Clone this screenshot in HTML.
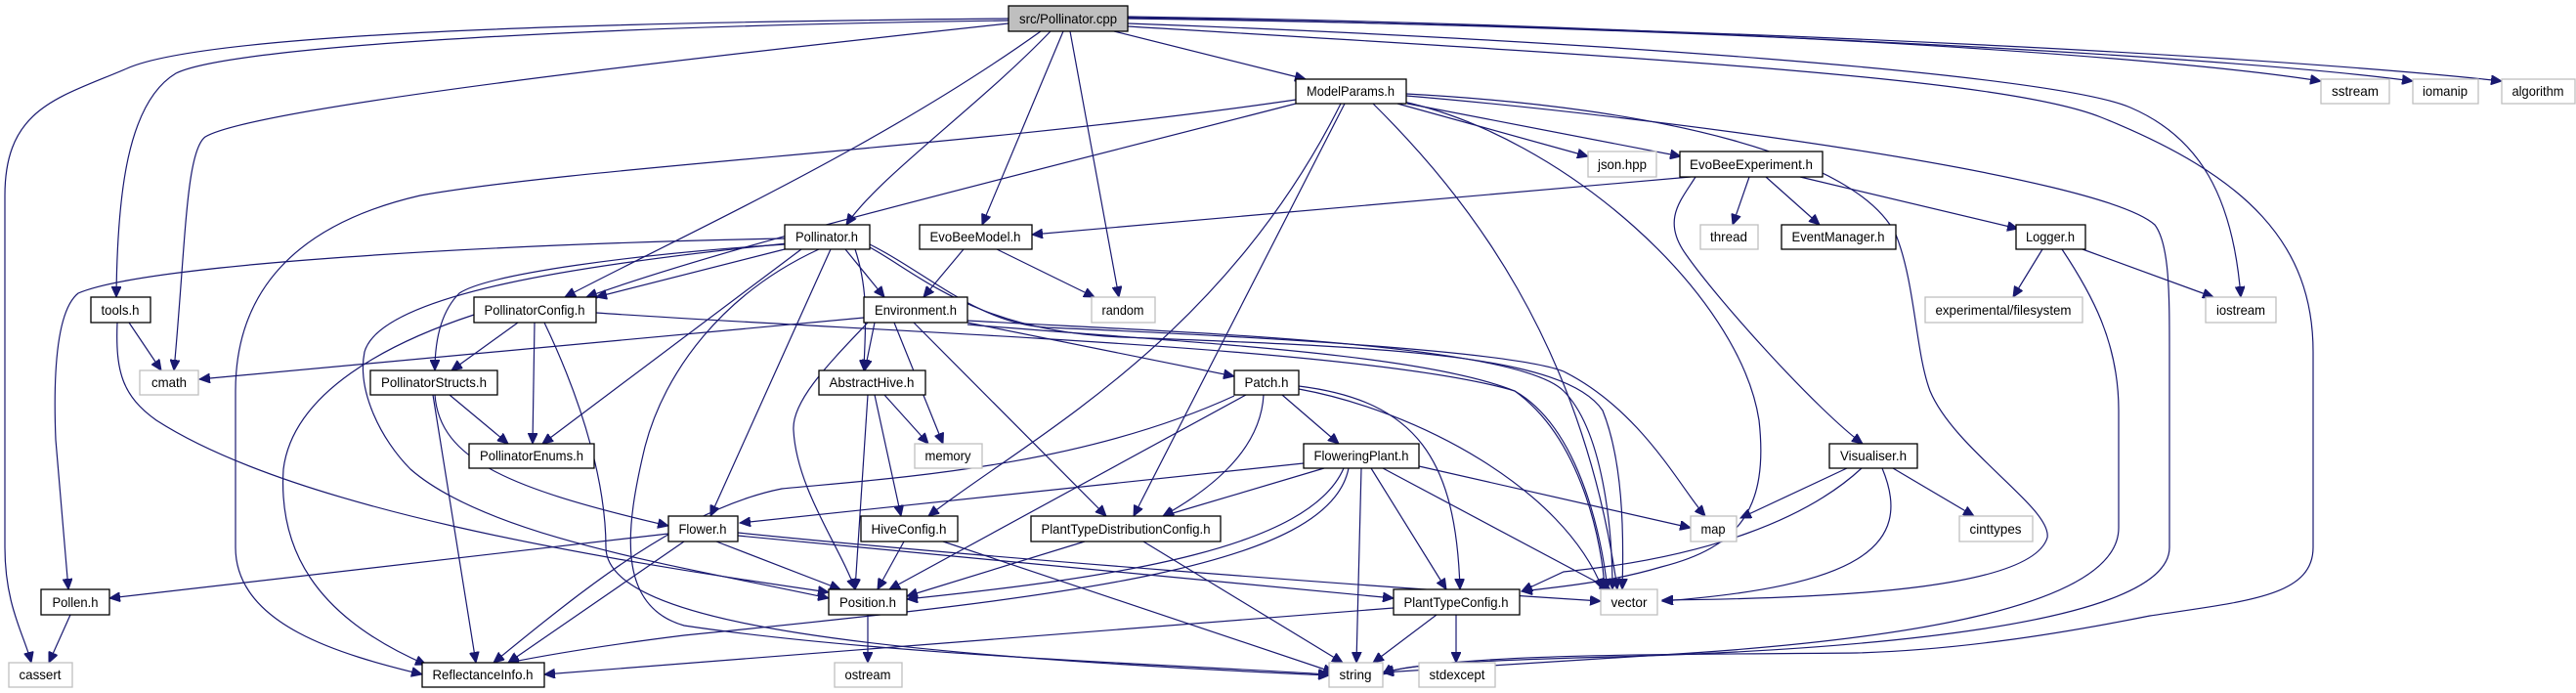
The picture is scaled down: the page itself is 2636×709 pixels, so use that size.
<!DOCTYPE html>
<html><head><meta charset="utf-8"><style>
html,body{margin:0;padding:0;background:#fff;}
svg{display:block;}
text{font-family:"Liberation Sans",Arial,sans-serif;font-size:14px;fill:#000;}
.e{fill:none;stroke:#191970;stroke-width:1.2;}
.n rect{fill:#fff;stroke:#000;stroke-width:1.3;}
.g rect{fill:#fff;stroke:#bfbfbf;stroke-width:1.3;}
</style></head><body>
<svg width="2636" height="709" viewBox="0 0 2636 709" xmlns="http://www.w3.org/2000/svg">
<defs><marker id="a" markerUnits="userSpaceOnUse" markerWidth="12" markerHeight="10" refX="11" refY="5" orient="auto"><path d="M0,0 L11,5 L0,10 z" fill="#191970" stroke="#191970"/></marker></defs>
<g class="e" marker-end="url(#a)">
<path d="M1032,19 C700,22 220,30 130,70 C60,100 5,110 5,200 L5,560 C5,620 25,650 32,678"/>
<path d="M1032,21 C650,26 240,45 180,75 C130,105 120,200 119,304"/>
<path d="M1032,24 C700,60 260,110 210,140 C190,155 190,250 178,379"/>
<path d="M1075,32 C1000,110 900,180 866,230"/>
<path d="M1065,32 C900,150 700,240 578,304"/>
<path d="M1088,32 L1005,230"/>
<path d="M1095,32 L1145,304"/>
<path d="M1140,32 L1336,81"/>
<path d="M1154,17 C1700,25 2200,55 2375,83"/>
<path d="M1154,18 C1800,30 2300,60 2469,83"/>
<path d="M1154,19 C1900,30 2400,65 2560,83"/>
<path d="M1154,24 C1600,40 2100,75 2180,110 C2250,140 2285,200 2293,304"/>
<path d="M1154,27 C1700,60 2050,80 2150,120 C2300,180 2367,250 2367,360 L2367,560 C2367,610 2300,615 2200,630 C2100,650 2000,665 1900,668 C1700,670 1500,668 1415,688"/>
<path d="M1326,102 C1000,150 600,170 430,200 C300,230 241,300 241,400 L241,560 C241,640 350,670 432,690"/>
<path d="M1326,106 C1000,190 750,250 600,304"/>
<path d="M1372,106 C1250,350 1050,450 950,528"/>
<path d="M1376,106 L1160,528"/>
<path d="M1405,106 C1500,200 1620,350 1655,603"/>
<path d="M1430,106 L1625,160"/>
<path d="M1440,106 L1720,160"/>
<path d="M1439,98 C1700,120 2150,180 2205,230 C2220,250 2220,300 2220,360 L2220,560 C2220,640 1900,665 1650,672 C1500,676 1430,680 1415,690"/>
<path d="M1439,96 C1700,110 1900,160 1940,240 C1960,290 1960,360 1975,400 C2000,460 2100,520 2095,550 C2080,600 1900,612 1701,614"/>
<path d="M1436,104 C1600,140 1780,300 1800,430 C1810,520 1780,560 1700,580 C1650,595 1600,600 1557,605"/>
<path d="M1730,181 L1056,240"/>
<path d="M1790,181 L1773,230"/>
<path d="M1807,181 L1862,230"/>
<path d="M1842,181 L2065,234"/>
<path d="M1735,181 C1720,205 1700,225 1725,260 C1760,310 1860,420 1906,454"/>
<path d="M2090,255 L2060,304"/>
<path d="M2131,255 L2265,304"/>
<path d="M2110,255 C2140,300 2168,350 2168,420 L2168,540 C2168,620 1950,655 1700,670 C1550,680 1450,685 1415,688"/>
<path d="M986,255 L945,304"/>
<path d="M1020,255 L1120,304"/>
<path d="M1890,479 L1781,530"/>
<path d="M1937,479 L2020,528"/>
<path d="M1905,479 C1850,530 1750,570 1600,585 L1557,605"/>
<path d="M1926,479 C1960,560 1900,600 1701,615"/>
<path d="M803,244 C500,250 150,270 80,300 C55,320 55,400 57,450 L70,603"/>
<path d="M803,255 L610,304"/>
<path d="M803,250 C650,260 500,280 470,300 C450,320 445,350 445,379"/>
<path d="M820,255 L555,454"/>
<path d="M806,249 C600,270 390,300 373,360 C365,400 390,450 420,480 C500,550 700,580 848,612"/>
<path d="M838,255 C740,300 680,380 660,457 C640,540 630,620 700,640 C900,670 1200,680 1360,690"/>
<path d="M850,255 L727,528"/>
<path d="M865,255 L905,304"/>
<path d="M875,255 C890,300 885,340 884,379"/>
<path d="M890,250 C950,280 1000,330 1070,335 C1300,345 1550,360 1600,380 C1680,420 1720,500 1745,528"/>
<path d="M890,253 C940,280 1000,340 1150,345 C1400,355 1600,360 1640,420 C1660,470 1662,540 1660,603"/>
<path d="M884,325 L204,388"/>
<path d="M895,330 L885,379"/>
<path d="M915,330 L965,454"/>
<path d="M888,330 C850,370 810,410 812,440 C815,500 860,560 875,603"/>
<path d="M935,330 L1132,528"/>
<path d="M990,330 L1263,385"/>
<path d="M990,328 C1200,340 1550,350 1600,400 C1640,440 1650,540 1650,603"/>
<path d="M990,332 C1200,350 1450,360 1550,400 C1620,440 1640,560 1645,603"/>
<path d="M905,404 L950,454"/>
<path d="M895,404 L922,528"/>
<path d="M888,404 L875,603"/>
<path d="M1263,405 C1100,480 900,490 800,500 C700,520 600,600 505,678"/>
<path d="M1275,404 L910,603"/>
<path d="M1293,404 C1290,460 1240,500 1190,528"/>
<path d="M1312,404 L1370,454"/>
<path d="M1329,395 C1450,410 1490,470 1494,603"/>
<path d="M1329,398 C1450,420 1600,500 1640,603"/>
<path d="M1334,474 L757,535"/>
<path d="M1355,479 L1190,528"/>
<path d="M1375,479 C1340,560 1150,590 928,613"/>
<path d="M1380,479 C1360,580 1100,610 700,650 C620,660 560,670 520,678"/>
<path d="M1393,479 L1388,678"/>
<path d="M1403,479 L1480,603"/>
<path d="M1415,479 L1648,603"/>
<path d="M1452,477 L1730,540"/>
<path d="M684,546 L112,612"/>
<path d="M700,554 L520,678"/>
<path d="M733,554 L860,603"/>
<path d="M755,548 L1426,612"/>
<path d="M755,545 C1000,570 1400,600 1638,615"/>
<path d="M530,330 L462,379"/>
<path d="M547,330 L545,454"/>
<path d="M485,322 C400,350 300,400 290,480 C285,560 320,630 436,680"/>
<path d="M557,330 C600,420 620,500 620,560 C620,640 900,670 1360,691"/>
<path d="M610,320 C900,340 1400,355 1550,400 C1620,450 1640,560 1642,603"/>
<path d="M460,404 L520,454"/>
<path d="M443,404 L487,678"/>
<path d="M445,404 C450,470 520,500 684,538"/>
<path d="M132,330 L165,379"/>
<path d="M120,330 C118,380 125,405 160,430 C300,520 600,570 848,606"/>
<path d="M72,629 L50,678"/>
<path d="M925,554 L898,603"/>
<path d="M965,554 L1365,688"/>
<path d="M1110,554 L928,610"/>
<path d="M1170,554 L1374,678"/>
<path d="M888,629 L888,678"/>
<path d="M1426,622 L557,690"/>
<path d="M1470,629 L1405,678"/>
<path d="M1490,629 L1490,678"/>
</g>
<g>
<g><rect x="1032" y="6" width="122" height="26" fill="#bfbfbf" stroke="#000" stroke-width="1.3"/><text x="1093" y="24" text-anchor="middle" textLength="100" lengthAdjust="spacingAndGlyphs">src/Pollinator.cpp</text></g>
</g>
<g class="n">
<rect x="1326" y="81" width="113" height="25"/><text x="1382" y="98" text-anchor="middle" textLength="90" lengthAdjust="spacingAndGlyphs">ModelParams.h</text>
<rect x="1719" y="155" width="146" height="26"/><text x="1792" y="173" text-anchor="middle" textLength="126" lengthAdjust="spacingAndGlyphs">EvoBeeExperiment.h</text>
<rect x="941" y="230" width="115" height="25"/><text x="998" y="247" text-anchor="middle" textLength="93" lengthAdjust="spacingAndGlyphs">EvoBeeModel.h</text>
<rect x="884" y="304" width="106" height="26"/><text x="937" y="322" text-anchor="middle" textLength="84" lengthAdjust="spacingAndGlyphs">Environment.h</text>
<rect x="1823" y="230" width="117" height="25"/><text x="1881" y="247" text-anchor="middle" textLength="95" lengthAdjust="spacingAndGlyphs">EventManager.h</text>
<rect x="2063" y="230" width="71" height="25"/><text x="2098" y="247" text-anchor="middle" textLength="50" lengthAdjust="spacingAndGlyphs">Logger.h</text>
<rect x="1872" y="454" width="90" height="25"/><text x="1917" y="471" text-anchor="middle" textLength="68" lengthAdjust="spacingAndGlyphs">Visualiser.h</text>
<rect x="803" y="230" width="87" height="25"/><text x="846" y="247" text-anchor="middle" textLength="64" lengthAdjust="spacingAndGlyphs">Pollinator.h</text>
<rect x="93" y="304" width="61" height="26"/><text x="123" y="322" text-anchor="middle" textLength="39" lengthAdjust="spacingAndGlyphs">tools.h</text>
<rect x="485" y="304" width="125" height="26"/><text x="547" y="322" text-anchor="middle" textLength="103" lengthAdjust="spacingAndGlyphs">PollinatorConfig.h</text>
<rect x="379" y="379" width="130" height="25"/><text x="444" y="396" text-anchor="middle" textLength="108" lengthAdjust="spacingAndGlyphs">PollinatorStructs.h</text>
<rect x="838" y="379" width="109" height="25"/><text x="892" y="396" text-anchor="middle" textLength="87" lengthAdjust="spacingAndGlyphs">AbstractHive.h</text>
<rect x="480" y="454" width="128" height="25"/><text x="544" y="471" text-anchor="middle" textLength="106" lengthAdjust="spacingAndGlyphs">PollinatorEnums.h</text>
<rect x="684" y="528" width="71" height="26"/><text x="719" y="546" text-anchor="middle" textLength="49" lengthAdjust="spacingAndGlyphs">Flower.h</text>
<rect x="881" y="528" width="99" height="26"/><text x="930" y="546" text-anchor="middle" textLength="77" lengthAdjust="spacingAndGlyphs">HiveConfig.h</text>
<rect x="42" y="603" width="70" height="26"/><text x="77" y="621" text-anchor="middle" textLength="47" lengthAdjust="spacingAndGlyphs">Pollen.h</text>
<rect x="848" y="603" width="80" height="26"/><text x="888" y="621" text-anchor="middle" textLength="58" lengthAdjust="spacingAndGlyphs">Position.h</text>
<rect x="432" y="678" width="125" height="25"/><text x="494" y="695" text-anchor="middle" textLength="103" lengthAdjust="spacingAndGlyphs">ReflectanceInfo.h</text>
<rect x="1263" y="379" width="66" height="25"/><text x="1296" y="396" text-anchor="middle" textLength="45" lengthAdjust="spacingAndGlyphs">Patch.h</text>
<rect x="1334" y="454" width="118" height="25"/><text x="1393" y="471" text-anchor="middle" textLength="97" lengthAdjust="spacingAndGlyphs">FloweringPlant.h</text>
<rect x="1055" y="528" width="194" height="26"/><text x="1152" y="546" text-anchor="middle" textLength="173" lengthAdjust="spacingAndGlyphs">PlantTypeDistributionConfig.h</text>
<rect x="1426" y="603" width="129" height="26"/><text x="1490" y="621" text-anchor="middle" textLength="107" lengthAdjust="spacingAndGlyphs">PlantTypeConfig.h</text>
</g>
<g class="g">
<rect x="1625" y="155" width="70" height="26"/><text x="1660" y="173" text-anchor="middle" textLength="50" lengthAdjust="spacingAndGlyphs">json.hpp</text>
<rect x="1740" y="230" width="59" height="25"/><text x="1769" y="247" text-anchor="middle" textLength="38" lengthAdjust="spacingAndGlyphs">thread</text>
<rect x="1117" y="304" width="65" height="26"/><text x="1149" y="322" text-anchor="middle" textLength="43" lengthAdjust="spacingAndGlyphs">random</text>
<rect x="2375" y="81" width="70" height="25"/><text x="2410" y="98" text-anchor="middle" textLength="48" lengthAdjust="spacingAndGlyphs">sstream</text>
<rect x="2469" y="81" width="67" height="25"/><text x="2502" y="98" text-anchor="middle" textLength="46" lengthAdjust="spacingAndGlyphs">iomanip</text>
<rect x="2560" y="81" width="75" height="25"/><text x="2597" y="98" text-anchor="middle" textLength="53" lengthAdjust="spacingAndGlyphs">algorithm</text>
<rect x="1970" y="304" width="161" height="26"/><text x="2050" y="322" text-anchor="middle" textLength="139" lengthAdjust="spacingAndGlyphs">experimental/filesystem</text>
<rect x="2257" y="304" width="72" height="26"/><text x="2293" y="322" text-anchor="middle" textLength="50" lengthAdjust="spacingAndGlyphs">iostream</text>
<rect x="2005" y="528" width="75" height="26"/><text x="2042" y="546" text-anchor="middle" textLength="53" lengthAdjust="spacingAndGlyphs">cinttypes</text>
<rect x="143" y="379" width="60" height="25"/><text x="173" y="396" text-anchor="middle" textLength="36" lengthAdjust="spacingAndGlyphs">cmath</text>
<rect x="936" y="454" width="69" height="25"/><text x="970" y="471" text-anchor="middle" textLength="47" lengthAdjust="spacingAndGlyphs">memory</text>
<rect x="1730" y="528" width="47" height="26"/><text x="1753" y="546" text-anchor="middle" textLength="25" lengthAdjust="spacingAndGlyphs">map</text>
<rect x="1638" y="603" width="58" height="26"/><text x="1667" y="621" text-anchor="middle" textLength="37" lengthAdjust="spacingAndGlyphs">vector</text>
<rect x="9" y="678" width="65" height="25"/><text x="41" y="695" text-anchor="middle" textLength="43" lengthAdjust="spacingAndGlyphs">cassert</text>
<rect x="854" y="678" width="69" height="25"/><text x="888" y="695" text-anchor="middle" textLength="47" lengthAdjust="spacingAndGlyphs">ostream</text>
<rect x="1360" y="678" width="55" height="25"/><text x="1387" y="695" text-anchor="middle" textLength="33" lengthAdjust="spacingAndGlyphs">string</text>
<rect x="1452" y="678" width="78" height="25"/><text x="1491" y="695" text-anchor="middle" textLength="57" lengthAdjust="spacingAndGlyphs">stdexcept</text>
</g>
</svg>
</body></html>
